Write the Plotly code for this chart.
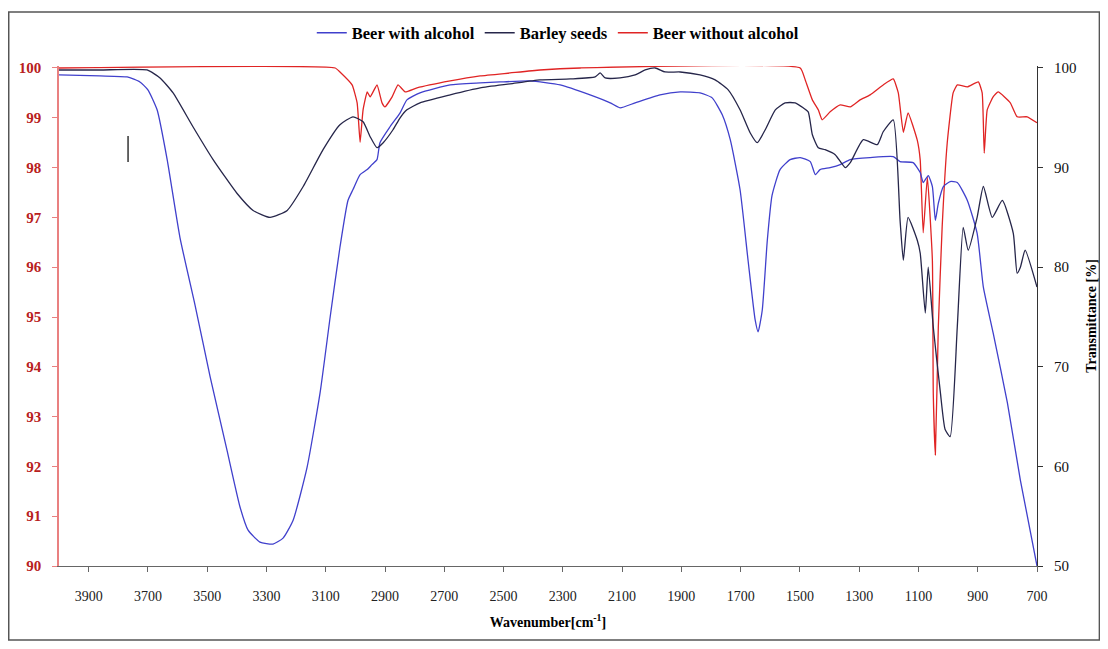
import plotly.graph_objects as go

# ---- Data ----
wn_beer_alc = [4000, 3862, 3770, 3727, 3700, 3669, 3635, 3592, 3541, 3490, 3433, 3389, 3362, 3322, 3278,
               3244, 3210, 3163, 3119, 3085, 3052, 3025, 3008, 2984, 2960, 2944, 2927, 2917, 2883, 2849,
               2826, 2782, 2680, 2579, 2512, 2410, 2309, 2208, 2140, 2107, 2056, 1972, 1904, 1837, 1796,
               1762, 1735, 1702, 1675, 1651, 1641, 1627, 1610, 1594, 1567, 1533, 1499, 1465, 1448, 1432,
               1398, 1364, 1330, 1263, 1185, 1162, 1118, 1094, 1084, 1067, 1053, 1043, 1033, 1016, 993,
               969, 935, 902, 881, 848, 800, 756, 700]
t_beer_alc = [99.3, 99.2, 99.1, 98.6, 97.8, 95.8, 90.8, 83.0, 76.2, 69.0, 61.6, 55.9, 53.6, 52.4, 52.2,
              52.8, 54.6, 59.9, 67.4, 75.0, 82.0, 86.7, 87.8, 89.3, 89.8, 90.3, 90.8, 92.5, 94.1, 95.5,
              96.8, 97.5, 98.3, 98.5, 98.6, 98.7, 98.3, 97.3, 96.5, 96.0, 96.5, 97.3, 97.6, 97.5, 97.0,
              95.3, 92.8, 87.8, 80.7, 74.7, 73.5, 75.7, 82.7, 87.2, 89.8, 90.8, 91.0, 90.6, 89.3, 89.8,
              90.0, 90.3, 90.8, 91.0, 91.1, 90.6, 90.5, 89.5, 88.5, 89.2, 88.1, 84.7, 86.4, 88.1, 88.6,
              88.5, 86.7, 83.4, 78.0, 73.4, 66.4, 58.6, 50.0]

wn_barley = [4000, 3862, 3703, 3659, 3615, 3548, 3480, 3399, 3345, 3288, 3230, 3176, 3109, 3052, 3008,
             2974, 2950, 2927, 2906, 2873, 2849, 2826, 2782, 2680, 2579, 2478, 2377, 2275, 2191, 2174,
             2157, 2107, 2056, 2022, 1988, 1955, 1904, 1837, 1786, 1742, 1702, 1668, 1644, 1617, 1583,
             1550, 1516, 1489, 1472, 1458, 1438, 1415, 1381, 1347, 1330, 1286, 1239, 1219, 1185, 1162,
             1151, 1135, 1104, 1094, 1077, 1067, 1050, 1026, 1010, 993, 969, 949, 932, 902, 881,
             851, 817, 780, 767, 756, 740, 700]
t_barley = [99.8, 99.8, 99.8, 99.0, 97.5, 94.1, 90.8, 87.4, 85.7, 85.0, 85.7, 88.1, 91.8, 94.3, 95.1,
            94.6, 93.1, 92.0, 92.5, 93.8, 95.0, 95.8, 96.5, 97.3, 98.0, 98.4, 98.8, 98.9, 99.1, 99.5,
            99.0, 99.0, 99.3, 99.8, 100.0, 99.6, 99.6, 99.3, 98.8, 97.8, 95.8, 93.5, 92.5, 93.8, 95.8,
            96.5, 96.5, 96.0, 95.6, 93.3, 92.0, 91.8, 91.3, 90.0, 90.5, 92.8, 92.3, 93.6, 94.8, 84.7,
            80.7, 85.0, 82.7, 81.4, 75.4, 80.0, 74.0, 67.4, 63.7, 63.0, 74.0, 84.0, 81.7, 85.0, 88.1,
            85.0, 86.7, 83.4, 79.4, 80.0, 81.7, 78.0]

wn_beer_noalc = [4000, 3068, 3052, 3011, 2994, 2984, 2974, 2960, 2950, 2927, 2910, 2900, 2876, 2856, 2832,
                 2792, 2680, 2579, 2478, 2377, 2241, 1499, 1482, 1458, 1438, 1425, 1398, 1364, 1330, 1297,
                 1263, 1219, 1185, 1168, 1151, 1135, 1104, 1094, 1084, 1070, 1053, 1050, 1043, 1033, 1020,
                 1003, 983, 969, 935, 898, 885, 878, 868, 848, 831, 790, 767, 733, 700]
t_beer_noalc = [100, 100, 99.92, 99.66, 99.30, 98.51, 99.16, 99.52, 99.42, 99.66, 99.30, 99.22, 99.42, 99.66, 99.52,
                99.60, 99.74, 99.84, 99.90, 99.96, 100, 100, 99.76, 99.36, 99.16, 98.96, 99.12, 99.26, 99.22, 99.36,
                99.46, 99.66, 99.78, 99.50, 98.71, 99.10, 98.55, 98.15, 96.69, 97.81, 96.14, 93.47, 92.23, 94.80, 96.81,
                98.49, 99.50, 99.66, 99.62, 99.72, 99.50, 98.29, 99.16, 99.42, 99.52, 99.30, 99.02, 99.02, 98.90]

x_ticks = [3900, 3700, 3500, 3300, 3100, 2900, 2700, 2500, 2300, 2100, 1900, 1700, 1500, 1300, 1100, 900, 700]
left_ticks = [90, 91, 92, 93, 94, 95, 96, 97, 98, 99, 100]
right_ticks = [50, 60, 70, 80, 90, 100]

SERIF = "Liberation Serif"
BLUE = "#4040cc"
DARK = "#26264a"
RED = "#e02424"

fig = go.Figure()
fig.add_trace(go.Scatter(x=wn_beer_alc, y=t_beer_alc, name="<b>Beer with alcohol</b>", yaxis="y2",
                         mode="lines", line=dict(color=BLUE, width=1.3, shape="spline", smoothing=0.5)))
fig.add_trace(go.Scatter(x=wn_barley, y=t_barley, name="<b>Barley seeds</b>", yaxis="y2",
                         mode="lines", line=dict(color=DARK, width=1.3, shape="spline", smoothing=0.5)))
fig.add_trace(go.Scatter(x=wn_beer_noalc, y=t_beer_noalc, name="<b>Beer without alcohol</b>", yaxis="y",
                         mode="lines", line=dict(color=RED, width=1.3, shape="spline", smoothing=0.4)))

# plot area: 978 x 500 px
fig.update_layout(
    width=1092, height=633,
    margin=dict(l=51, r=63, t=58, b=75, autoexpand=False),
    paper_bgcolor="white", plot_bgcolor="white",
    font=dict(family=SERIF, size=14, color="black"),
    showlegend=True,
    legend=dict(orientation="h", x=0.51, xanchor="center", y=1.066, yanchor="middle",
                font=dict(family=SERIF, size=16.5, color="black"), bgcolor="rgba(0,0,0,0)",
                itemwidth=30, tracegroupgap=0),
    xaxis=dict(range=[4000, 700], tickvals=x_ticks, ticktext=[str(v) for v in x_ticks],
               automargin=False,
               showgrid=False, zeroline=False, showline=True, linecolor="#666", linewidth=1.2,
               ticks="outside", ticklen=5, tickcolor="#666", ticklabelstandoff=12,
               tickfont=dict(family=SERIF, size=14, color="#222"),
               title=dict(text="<b>Wavenumber[cm<sup>-1</sup>]</b>", font=dict(family=SERIF, size=14),
                          standoff=14)),
    yaxis=dict(range=[90, 100.04], tickvals=left_ticks, ticktext=[f"<b>{v}</b>" for v in left_ticks],
               automargin=False,
               showgrid=False, zeroline=False, showline=True, linecolor="#e98080", linewidth=1.5,
               ticks="outside", ticklen=5, tickcolor="#e98080", ticklabelstandoff=8,
               tickfont=dict(family=SERIF, size=15, color="#b82020")),
    yaxis2=dict(range=[50, 100.2], tickvals=right_ticks, overlaying="y", side="right",
                automargin=False,
                showgrid=False, zeroline=False, showline=True, linecolor="#333", linewidth=1.2,
                ticks="outside", ticklen=5, tickcolor="#333", ticklabelstandoff=8,
                tickfont=dict(family=SERIF, size=15, color="#111"),
                title=dict(text="<b>Transmittance [%]</b>", font=dict(family=SERIF, size=14),
                           standoff=10)),
    shapes=[
        dict(type="rect", xref="paper", yref="paper", x0=-0.0514, x1=1.0638, y0=-0.148, y1=1.108,
             line=dict(color="#555", width=1.5), fillcolor="rgba(0,0,0,0)", layer="below"),
        dict(type="line", xref="paper", yref="paper", x0=0.0706, x1=0.0706, y0=0.808, y1=0.86,
             line=dict(color="black", width=1.2)),
    ],
)

fig.write_html("out.html")
